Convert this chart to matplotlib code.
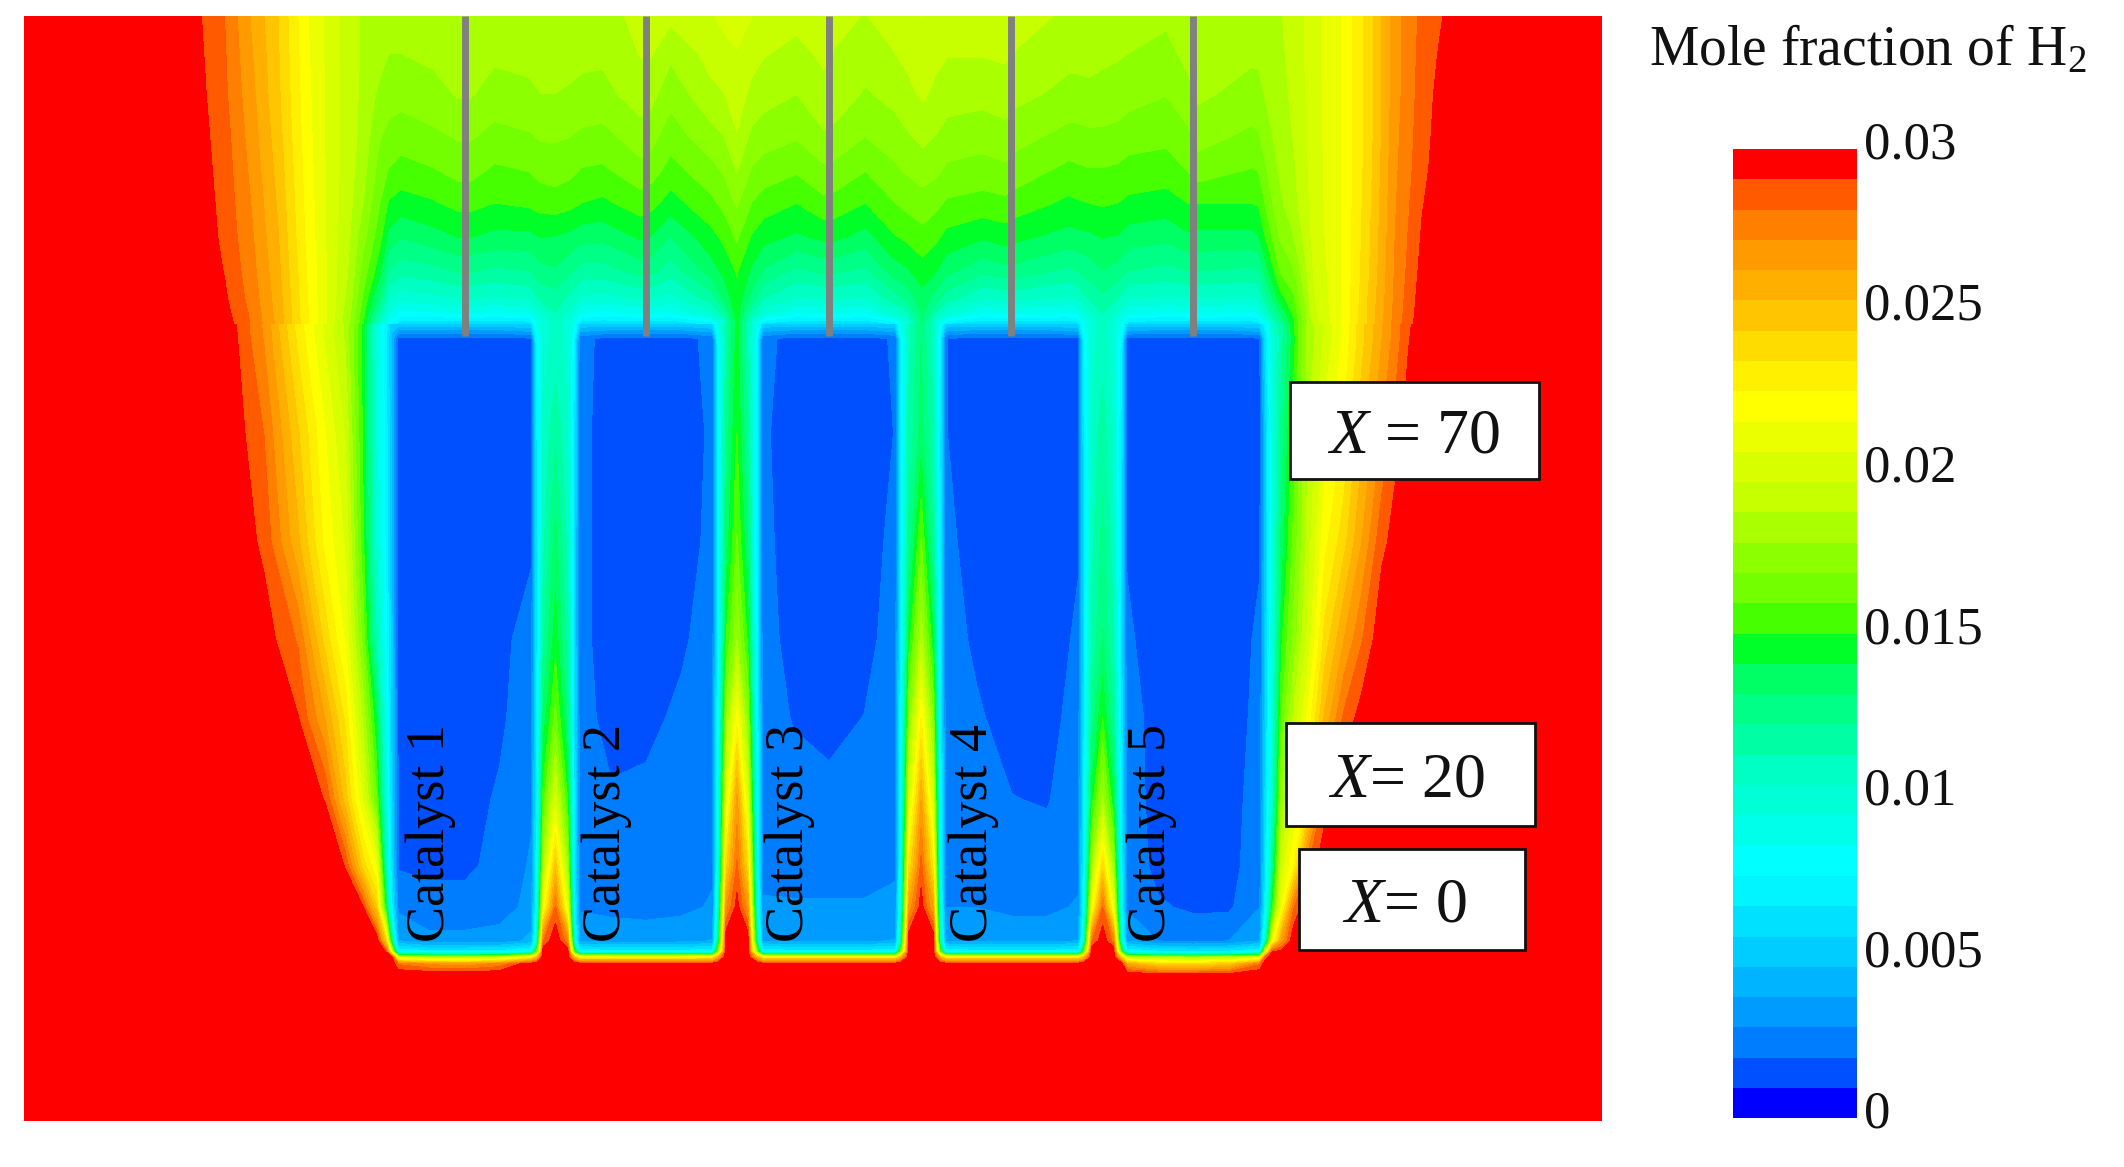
import numpy as np
import matplotlib
matplotlib.use("Agg")
import matplotlib.pyplot as plt
from matplotlib.patches import Rectangle
from matplotlib.transforms import ScaledTranslation

plt.rcParams["font.family"] = ["Liberation Serif", "DejaVu Serif"]
plt.rcParams["mathtext.fontset"] = "custom"
plt.rcParams["mathtext.rm"] = "Liberation Serif"
plt.rcParams["mathtext.it"] = "Liberation Serif:italic"

# one colour per contour band, bottom to top of the legend
band_colors = [
    "#0000ff", "#0050ff", "#007dff", "#009bff", "#00b4ff", "#00cdff", "#00e1ff", "#00f5ff",
    "#00ffff", "#00ffeb", "#00ffd7", "#00ffc3", "#00ffa5", "#00ff87", "#00ff64", "#00ff28",
    "#46ff00", "#73ff00", "#8cff00", "#aaff00", "#c8ff00", "#d7ff00", "#ebff00", "#ffff00",
    "#fff000", "#ffdc00", "#ffc600", "#ffaf00", "#ff9b00", "#ff8000", "#ff5a00", "#ff0000",
]
tick_values = [0, 0.005, 0.01, 0.015, 0.02, 0.025, 0.03]
tick_labels = ["0", "0.005", "0.01", "0.015", "0.02", "0.025", "0.03"]

catalyst_names = ["Catalyst 1", "Catalyst 2", "Catalyst 3", "Catalyst 4", "Catalyst 5"]
catalyst_label_x = [318, 448, 583, 719, 850]
rod_x = [343, 477, 612, 746, 881]

# H2 mole fraction, in units of 1e-4; one inner list per x station
upper_y = [12, 40, 70, 100, 125, 150, 175, 200, 220, 232, 241]
upper_x = [18, 148, 166, 185, 205, 227, 245, 258, 268, 280, 287, 296, 320, 339, 347, 365,
           391, 399, 410, 421, 429, 445, 473, 481, 495, 525, 534, 544, 555, 564, 588, 608,
           616, 639, 660, 669, 681, 691, 699, 725, 742, 750, 789, 795, 804, 814, 825, 833,
           861, 877, 885, 924, 929, 937, 945, 955, 970, 991, 1010, 1030, 1050, 1066, 1183]
upper_h2 = [
    [300, 300, 300, 300, 300, 300, 300, 300, 300, 300, 300],
    [291, 292, 293, 294, 295, 296, 297, 298, 299, 300, 300],
    [281, 282, 283, 285, 286, 287, 288, 290, 292, 294, 296],
    [262, 264, 266, 268, 270, 272, 274, 276, 278, 280, 281],
    [244, 245, 246, 248, 250, 252, 254, 256, 258, 259, 260],
    [216, 217, 218, 219, 220, 221, 222, 224, 225, 226, 226],
    [201, 201, 201, 201, 201, 201, 201, 201, 201, 200, 200],
    [192, 192, 192, 192, 191, 190, 188, 186, 183, 180, 178],
    [186, 186, 185, 184, 182, 178, 172, 165, 158, 153, 150],
    [186, 182, 176, 170, 165, 160, 154, 144, 130, 115, 95],
    [183, 178, 173, 166, 159, 149, 138, 122, 105, 92, 75],
    [183, 178, 172, 164, 156, 146, 132, 116, 98, 80, 52],
    [183, 180, 175, 167, 159, 149, 137, 119, 101, 82, 50],
    [184, 182, 179, 170, 163, 153, 141, 123, 104, 84, 50],
    [184, 182, 179, 170, 163, 153, 141, 123, 104, 84, 50],
    [183, 180, 174, 166, 158, 150, 138, 120, 102, 82, 50],
    [183, 181, 176, 168, 160, 152, 138, 122, 105, 84, 52],
    [183, 181, 178, 170, 163, 154, 141, 128, 115, 100, 85],
    [184, 181, 178, 170, 164, 155, 140, 130, 118, 112, 106],
    [183, 181, 177, 169, 162, 153, 138, 124, 110, 100, 85],
    [183, 180, 176, 167, 159, 150, 135, 118, 102, 84, 52],
    [183, 180, 175, 166, 158, 148, 134, 118, 100, 80, 50],
    [191, 188, 183, 174, 166, 155, 142, 126, 105, 84, 50],
    [191, 188, 181, 172, 164, 153, 140, 125, 104, 84, 50],
    [190, 180, 172, 164, 156, 146, 131, 117, 100, 82, 50],
    [196, 191, 185, 175, 166, 157, 147, 136, 118, 100, 60],
    [199, 194, 187, 178, 170, 162, 152, 143, 133, 115, 90],
    [203, 196, 192, 187, 179, 170, 161, 151, 147, 146, 145],
    [197, 191, 185, 176, 168, 159, 149, 139, 128, 112, 88],
    [194, 188, 182, 173, 165, 155, 144, 130, 113, 96, 55],
    [190, 185, 178, 170, 161, 150, 139, 120, 103, 82, 50],
    [192, 189, 185, 177, 167, 157, 143, 124, 104, 84, 50],
    [190, 187, 183, 176, 166, 156, 143, 124, 104, 84, 50],
    [187, 182, 177, 169, 160, 150, 137, 120, 103, 82, 50],
    [193, 187, 181, 174, 167, 159, 149, 136, 118, 100, 58],
    [195, 190, 184, 177, 170, 162, 152, 139, 125, 108, 85],
    [197, 193, 189, 181, 173, 165, 156, 146, 137, 133, 131],
    [195, 190, 185, 178, 171, 162, 152, 141, 127, 110, 85],
    [193, 188, 182, 175, 167, 158, 147, 134, 117, 98, 56],
    [193, 188, 181, 173, 165, 156, 142, 125, 104, 82, 50],
    [193, 189, 183, 175, 167, 157, 145, 128, 106, 84, 50],
    [191, 187, 181, 172, 165, 155, 143, 128, 106, 84, 50],
    [186, 181, 175, 166, 157, 148, 137, 120, 102, 82, 52],
    [186, 181, 175, 166, 158, 149, 138, 122, 104, 84, 54],
    [186, 181, 176, 167, 159, 150, 139, 126, 114, 100, 85],
    [186, 180, 175, 167, 159, 151, 141, 131, 120, 112, 107],
    [185, 179, 174, 166, 158, 150, 140, 128, 113, 100, 86],
    [183, 178, 172, 164, 156, 148, 136, 122, 104, 84, 54],
    [180, 175, 169, 162, 155, 146, 134, 119, 102, 82, 50],
    [186, 181, 175, 167, 160, 150, 139, 122, 103, 83, 50],
    [186, 183, 180, 172, 165, 150, 138, 122, 103, 83, 50],
    [184, 180, 174, 167, 159, 150, 138, 120, 102, 82, 52],
    [184, 180, 175, 168, 160, 151, 140, 122, 104, 84, 55],
    [186, 185, 181, 176, 171, 165, 156, 142, 125, 110, 85],
    [187, 186, 185, 183, 180, 176, 170, 160, 146, 130, 115],
    [190, 190, 189, 188, 186, 184, 178, 168, 158, 152, 146],
    [203, 203, 202, 202, 201, 201, 200, 198, 196, 194, 192],
    [216, 216, 216, 216, 216, 216, 216, 216, 216, 216, 216],
    [238, 238, 238, 238, 239, 240, 241, 242, 244, 245, 245],
    [268, 268, 268, 269, 270, 271, 272, 273, 274, 275, 276],
    [284, 285, 286, 287, 288, 290, 292, 294, 296, 297, 298],
    [291, 293, 295, 296, 297, 298, 299, 300, 300, 300, 300],
    [300, 300, 300, 300, 300, 300, 300, 300, 300, 300, 300],
]

lower_y = [240, 250, 320, 400, 472, 530, 590, 640, 670, 695, 703, 707, 712, 720, 828]
lower_x = [18, 170, 195, 220, 240, 255, 268, 278, 285, 289,
           294, 316, 343, 369, 392, 396, 401, 410, 419, 424,
           428, 451, 477, 503, 526, 530, 536, 544, 552, 559,
           563, 586, 612, 638, 661, 665, 671, 680, 689, 694,
           698, 721, 747, 773, 796, 800, 806, 814, 822, 828,
           832, 855, 881, 907, 930, 934, 939, 946, 955, 965,
           978, 992, 1005, 1020, 1040, 1050, 1183]
lower_h2 = [
    [300, 300, 300, 300, 300, 300, 300, 300, 300, 300, 300, 300, 300, 300, 300],
    [295, 296, 298, 300, 300, 300, 300, 300, 300, 300, 300, 300, 300, 300, 300],
    [270, 271, 281, 288, 296, 300, 300, 300, 300, 300, 300, 300, 300, 300, 300],
    [230, 232, 245, 255, 280, 291, 298, 300, 300, 300, 300, 300, 300, 300, 300],
    [204, 205, 216, 222, 240, 262, 290, 300, 300, 300, 300, 300, 300, 300, 300],
    [186, 186, 196, 205, 214, 232, 248, 290, 300, 300, 300, 300, 300, 300, 300],
    [146, 146, 148, 152, 165, 185, 205, 240, 291, 300, 300, 300, 300, 300, 300],
    [95, 95, 96, 100, 112, 140, 160, 216, 245, 300, 300, 300, 300, 300, 300],
    [70, 68, 70, 72, 78, 85, 95, 110, 140, 240, 290, 300, 300, 300, 300],
    [50, 45, 46, 48, 50, 52, 55, 60, 70, 130, 210, 300, 300, 300, 300],
    # catalyst 1
    [50, 16, 16, 16, 16, 17, 18, 18, 26, 38, 75, 200, 280, 300, 300],
    [50, 15, 15, 15, 15, 15, 15, 16, 24, 30, 70, 185, 270, 300, 300],
    [50, 15, 15, 15, 15, 15, 15, 16, 24, 30, 70, 185, 265, 300, 300],
    [50, 15, 15, 15, 16, 17, 20, 23, 24, 32, 70, 190, 275, 300, 300],
    [55, 18, 17, 17, 23, 25, 27, 29, 31, 40, 80, 225, 300, 300, 300],
    # gap 1
    [85, 70, 62, 60, 60, 62, 65, 70, 75, 90, 150, 250, 300, 300, 300],
    [100, 100, 105, 110, 120, 135, 155, 185, 215, 280, 300, 300, 300, 300, 300],
    [106, 106, 120, 135, 146, 162, 200, 250, 282, 300, 300, 300, 300, 300, 300],
    [100, 100, 105, 110, 118, 130, 150, 180, 210, 275, 300, 300, 300, 300, 300],
    [85, 70, 60, 58, 58, 60, 62, 65, 72, 90, 150, 250, 300, 300, 300],
    # catalyst 2
    [52, 22, 21, 21, 21, 23, 24, 25, 27, 35, 75, 220, 300, 300, 300],
    [50, 15, 15, 15, 15, 15, 20, 23, 26, 33, 70, 220, 300, 300, 300],
    [50, 15, 15, 15, 15, 16, 21, 23, 25, 33, 70, 220, 300, 300, 300],
    [50, 15, 15, 15, 17, 21, 23, 24, 26, 34, 70, 220, 300, 300, 300],
    [55, 22, 20, 21, 24, 25, 26, 27, 29, 38, 75, 225, 300, 300, 300],
    # gap 2
    [90, 75, 70, 70, 72, 75, 80, 85, 95, 120, 170, 260, 300, 300, 300],
    [115, 115, 125, 135, 150, 175, 205, 240, 270, 300, 300, 300, 300, 300, 300],
    [145, 145, 150, 160, 178, 220, 265, 283, 295, 300, 300, 300, 300, 300, 300],
    [112, 112, 122, 132, 148, 172, 203, 238, 268, 300, 300, 300, 300, 300, 300],
    [85, 72, 65, 65, 68, 72, 76, 82, 90, 115, 165, 255, 300, 300, 300],
    # catalyst 3
    [52, 22, 20, 21, 23, 24, 25, 26, 29, 36, 75, 225, 300, 300, 300],
    [50, 15, 15, 15, 15, 18, 23, 25, 29, 36, 70, 225, 300, 300, 300],
    [50, 15, 15, 15, 15, 15, 22, 25, 29, 36, 70, 225, 300, 300, 300],
    [50, 15, 15, 15, 15, 19, 23, 25, 29, 36, 70, 225, 300, 300, 300],
    [55, 20, 19, 21, 24, 25, 26, 27, 30, 38, 75, 225, 300, 300, 300],
    # gap 3
    [85, 72, 68, 68, 70, 74, 78, 84, 92, 115, 165, 255, 300, 300, 300],
    [110, 110, 115, 125, 145, 170, 200, 235, 265, 300, 300, 300, 300, 300, 300],
    [131, 131, 135, 160, 185, 225, 262, 285, 296, 300, 300, 300, 300, 300, 300],
    [108, 108, 113, 122, 142, 168, 198, 232, 262, 300, 300, 300, 300, 300, 300],
    [82, 70, 65, 65, 68, 72, 76, 82, 90, 112, 160, 255, 300, 300, 300],
    # catalyst 4
    [52, 19, 19, 21, 23, 24, 25, 26, 28, 36, 75, 225, 300, 300, 300],
    [50, 15, 15, 15, 17, 20, 23, 25, 28, 35, 70, 225, 300, 300, 300],
    [50, 15, 15, 15, 15, 15, 19, 23, 26, 34, 70, 225, 300, 300, 300],
    [50, 15, 15, 15, 15, 15, 18, 23, 26, 34, 70, 225, 300, 300, 300],
    [55, 17, 17, 18, 20, 23, 25, 26, 29, 38, 75, 225, 300, 300, 300],
    # gap 4
    [85, 72, 62, 60, 60, 62, 66, 70, 75, 95, 150, 250, 300, 300, 300],
    [100, 100, 105, 110, 115, 125, 145, 180, 215, 280, 300, 300, 300, 300, 300],
    [107, 108, 118, 125, 132, 150, 180, 240, 282, 298, 300, 300, 300, 300, 300],
    [98, 98, 103, 108, 113, 122, 142, 178, 212, 278, 300, 300, 300, 300, 300],
    [85, 70, 60, 58, 58, 60, 64, 68, 74, 92, 145, 240, 295, 300, 300],
    # catalyst 5
    [52, 17, 16, 18, 20, 23, 24, 25, 27, 36, 75, 190, 260, 300, 300],
    [50, 15, 15, 15, 15, 15, 15, 16, 20, 28, 68, 185, 240, 295, 300],
    [50, 15, 15, 15, 15, 15, 15, 15, 17, 26, 66, 180, 240, 295, 300],
    [50, 15, 15, 15, 15, 15, 15, 15, 17, 28, 68, 185, 245, 295, 300],
    [55, 18, 16, 18, 20, 21, 23, 25, 28, 38, 75, 200, 280, 300, 300],
    # right plume
    [70, 60, 50, 50, 52, 54, 58, 62, 70, 100, 200, 280, 300, 300, 300],
    [100, 95, 90, 90, 92, 95, 100, 120, 145, 210, 290, 300, 300, 300, 300],
    [118, 118, 125, 135, 148, 160, 178, 200, 215, 265, 295, 300, 300, 300, 300],
    [148, 146, 155, 162, 172, 190, 205, 225, 280, 300, 300, 300, 300, 300, 300],
    [180, 180, 185, 190, 198, 216, 228, 280, 300, 300, 300, 300, 300, 300, 300],
    [198, 199, 210, 222, 238, 255, 285, 300, 300, 300, 300, 300, 300, 300, 300],
    [218, 218, 226, 240, 262, 283, 300, 300, 300, 300, 300, 300, 300, 300, 300],
    [240, 240, 250, 262, 280, 295, 300, 300, 300, 300, 300, 300, 300, 300, 300],
    [262, 262, 272, 288, 298, 300, 300, 300, 300, 300, 300, 300, 300, 300, 300],
    [289, 290, 297, 300, 300, 300, 300, 300, 300, 300, 300, 300, 300, 300, 300],
    [298, 298, 300, 300, 300, 300, 300, 300, 300, 300, 300, 300, 300, 300, 300],
    [300, 300, 300, 300, 300, 300, 300, 300, 300, 300, 300, 300, 300, 300, 300],
]

levels = np.linspace(0, 0.03, len(band_colors) + 1)

fig = plt.figure(figsize=(21.24, 11.67), dpi=100)
W, H = 1568.0, 862.0  # layout below is measured in this picture size

ax = fig.add_axes([18 / W, 1 - 828 / H, (1183 - 18) / W, (828 - 12) / H])
ax.set_facecolor("#ff0000")
for xs, ys, table in [(upper_x, upper_y, upper_h2), (lower_x, lower_y, lower_h2)]:
    z = np.clip(np.array(table, dtype=float).T * 1e-4, 0, 0.03)
    cs = ax.contourf(xs, ys, z, levels=levels, colors=band_colors)
ax.set_xlim(18, 1183)
ax.set_ylim(828, 12)
ax.axis("off")

ax.vlines(rod_x, 12, 248, color="#808080", linewidth=5)

for name, x in zip(catalyst_names, catalyst_label_x):
    ax.text(x, 696, name, rotation=90, ha="center", va="bottom", fontsize=39, color="black")

boxes = [(952, 282, 184, 72, r"$\it{X}$ = 70", 1043),
         (949, 534, 184, 76, r"$\it{X}$= 20", 1038),
         (959, 627, 167, 75, r"$\it{X}$= 0", 1037)]
for x0, y0, w, h, label, xc in boxes:
    ax.add_patch(Rectangle((x0, y0), w, h, facecolor="white", edgecolor="#111111",
                           linewidth=2, zorder=3))
    ax.text(xc, y0 + h / 2 + 5, label, ha="center", va="center", fontsize=46,
            color="#111111", zorder=4)

cax = fig.add_axes([1279 / W, 1 - 826 / H, (1371 - 1279) / W, (826 - 110) / H])
cb = fig.colorbar(cs, cax=cax, ticks=tick_values)
cb.ax.set_yticklabels(tick_labels)
cb.ax.tick_params(length=0, pad=5, labelsize=38, colors="#111111")
cb.outline.set_visible(False)
offset = ScaledTranslation(0, 9 / 100, fig.dpi_scale_trans)
for lab in cb.ax.get_yticklabels():
    lab.set_transform(lab.get_transform() + offset)

fig.text(1217 / W, 1 - 48 / H, "Mole fraction of H$_2$", fontsize=40, color="#111111",
         ha="left", va="baseline")

fig.savefig("out.png", dpi=100)
